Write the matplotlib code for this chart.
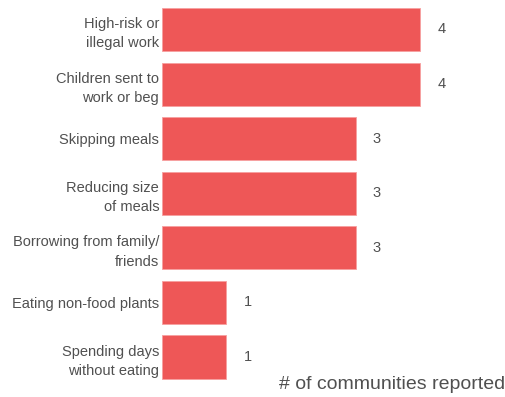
import matplotlib
matplotlib.use("Agg")
import matplotlib.pyplot as plt

categories = ["High-risk or\nillegal work", "Children sent to\nwork or beg", "Skipping meals",
              "Reducing size\nof meals", "Borrowing from family/\nfriends",
              "Eating non-food plants", "Spending days\nwithout eating"]
counts = [4, 4, 3, 3, 3, 1, 1]

plt.rcParams['font.family'] = ['Liberation Sans', 'DejaVu Sans']

fig = plt.figure(figsize=(5.06, 3.97), dpi=100)
ax = fig.add_axes([162 / 506, 12.7 / 397, 344 / 506, 382.1 / 397])

ypos = list(range(len(categories)))
ax.barh(ypos, counts, height=0.79, color='#ee5757', edgecolor='#f7a0a0', linewidth=0.6)

for y, v in zip(ypos, counts):
    ax.text(v + 0.27, y, str(v), va='center', ha='left', fontsize=10.5, color='#505050')

ax.set_yticks(ypos)
ax.set_yticklabels(categories, fontsize=10.5, color='#505050', linespacing=1.5)
ax.tick_params(axis='y', length=0, pad=2)
ax.set_xticks([])
ax.set_xlim(0, 344 / 64.5)
ax.set_ylim(6.5, -0.5)
for s in ax.spines.values():
    s.set_visible(False)

fig.text(505 / 506, 4 / 397, "# of communities reported", ha='right', va='bottom',
         fontsize=14, color='#505050')

fig.savefig("out.png", dpi=100)
